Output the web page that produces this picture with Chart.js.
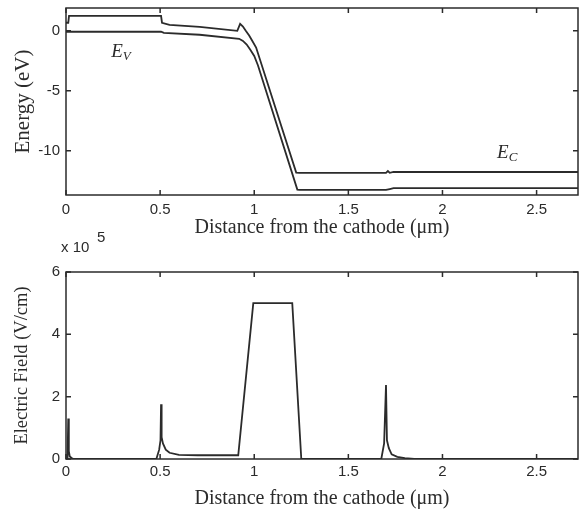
<!DOCTYPE html>
<html lang="en">
<head>
<meta charset="UTF-8">
<title>Energy band and electric field</title>
<script src="https://cdn.jsdelivr.net/npm/chart.js"></script>
<style>
    body { margin: 0; background: #fff; }
    #wrap { position: relative; width: 586px; height: 520px; }
    #bandChart { position: absolute; left: 0; top: 0; }
    #fieldChart { position: absolute; left: 0; top: 228px; }
</style>
</head>
<body>
<div id="wrap">
    <canvas id="bandChart" width="586" height="240"></canvas>
    <canvas id="fieldChart" width="586" height="292"></canvas>
</div>

<script>
    // values (distance in um, energy in eV, field in 1e5 V/cm)
    const xTicks = [0, 0.5, 1, 1.5, 2, 2.5];
    const energyTicks = [-10, -5, 0];
    const fieldTicks = [0, 2, 4, 6];

    const ecX = [0, 0.012, 0.016, 0.505, 0.51, 0.55, 0.71, 0.91, 0.925, 0.94, 0.955, 0.973, 0.99, 1.01, 1.223, 1.24, 1.70, 1.71, 1.72, 1.74, 2.72];
    const ecY = [0.67, 0.67, 1.25, 1.25, 0.67, 0.5, 0.33, 0.0, 0.58, 0.35, 0.0, -0.4, -0.85, -1.4, -11.83, -11.85, -11.85, -11.7, -11.85, -11.78, -11.78];

    const evX = [0, 0.505, 0.52, 0.71, 0.92, 0.94, 0.96, 0.98, 1.0, 1.02, 1.229, 1.24, 1.70, 1.72, 1.74, 2.72];
    const evY = [-0.08, -0.08, -0.17, -0.33, -0.67, -0.85, -1.15, -1.6, -2.1, -2.9, -13.25, -13.28, -13.28, -13.2, -13.12, -13.12];

    const fieldX = [0, 0.008, 0.012, 0.015, 0.02, 0.03, 0.04, 0.48, 0.495, 0.502, 0.505, 0.508, 0.515, 0.53, 0.55, 0.6, 0.7, 0.915, 0.995, 1.202, 1.25, 1.675, 1.69, 1.70, 1.705, 1.715, 1.73, 1.76, 1.8, 1.85, 2.72];
    const fieldY = [0, 0, 1.3, 0.25, 0.08, 0.03, 0, 0, 0.3, 0.6, 1.76, 0.7, 0.5, 0.3, 0.2, 0.13, 0.12, 0.12, 5.0, 5.0, 0, 0, 0.5, 2.37, 0.6, 0.35, 0.15, 0.07, 0.03, 0, 0];

    const ink = "#2b2b2b";
    const sansFont = "'Liberation Sans', Arial, sans-serif";
    const serifFont = "'Liberation Serif', 'Times New Roman', serif";

    function toPoints(xs, ys) {
        return xs.map((x, i) => ({ x: x, y: ys[i] }));
    }

    function lineSet(xs, ys) {
        return {
            data: toPoints(xs, ys),
            borderColor: ink,
            borderWidth: 1.8,
            pointRadius: 0,
            tension: 0,
            fill: false
        };
    }

    // MATLAB style box with inward ticks on all four sides
    const boxPlugin = {
        id: "boxPlugin",
        afterDraw(chart) {
            const { ctx, chartArea: a, scales } = chart;
            ctx.save();
            ctx.strokeStyle = ink;
            ctx.lineWidth = 1.5;
            ctx.strokeRect(a.left, a.top, a.right - a.left, a.bottom - a.top);
            ctx.beginPath();
            scales.x.ticks.forEach(t => {
                const px = scales.x.getPixelForValue(t.value);
                ctx.moveTo(px, a.bottom); ctx.lineTo(px, a.bottom - 5);
                ctx.moveTo(px, a.top); ctx.lineTo(px, a.top + 5);
            });
            scales.y.ticks.forEach(t => {
                const py = scales.y.getPixelForValue(t.value);
                ctx.moveTo(a.left, py); ctx.lineTo(a.left + 5, py);
                ctx.moveTo(a.right, py); ctx.lineTo(a.right - 5, py);
            });
            ctx.stroke();
            ctx.restore();
        }
    };

    // E with subscript, placed in data coordinates
    function drawBandLabel(chart, x, y, sub) {
        const { ctx, scales } = chart;
        const px = scales.x.getPixelForValue(x);
        const py = scales.y.getPixelForValue(y);
        ctx.save();
        ctx.fillStyle = ink;
        ctx.textBaseline = "alphabetic";
        ctx.font = "italic 19px " + serifFont;
        ctx.fillText("E", px, py);
        const w = ctx.measureText("E").width;
        ctx.font = "italic 13px " + serifFont;
        ctx.fillText(sub, px + w, py + 3);
        ctx.restore();
    }

    const bandLabels = {
        id: "bandLabels",
        afterDraw(chart) {
            drawBandLabel(chart, 0.24, -2.17, "V");
            drawBandLabel(chart, 2.29, -10.58, "C");
        }
    };

    const scaleFactor = {
        id: "scaleFactor",
        afterDraw(chart) {
            const { ctx } = chart;
            ctx.save();
            ctx.fillStyle = ink;
            ctx.textBaseline = "middle";
            ctx.font = "15px " + sansFont;
            ctx.fillText("x 10", 61, 20);
            ctx.fillText("5", 97, 10);
            ctx.restore();
        }
    };

    const plainTick = v => String(v);

    function xScale(height, tickPad, titlePad) {
        return {
            type: "linear",
            min: 0,
            max: 2.72,
            afterBuildTicks: s => { s.ticks = xTicks.map(v => ({ value: v })); },
            afterFit: s => { s.height = height; s.paddingLeft = 0; s.paddingRight = 0; },
            grid: { display: false, drawTicks: false },
            border: { display: false },
            ticks: { color: ink, padding: tickPad, callback: plainTick, font: { family: sansFont, size: 15 } },
            title: {
                display: true,
                text: "Distance from the cathode (μm)",
                color: ink,
                padding: { top: 0, bottom: titlePad },
                font: { family: serifFont, size: 20, lineHeight: 1.2 }
            }
        };
    }

    function yScale(min, max, tickList, text, size) {
        return {
            type: "linear",
            min: min,
            max: max,
            afterBuildTicks: s => { s.ticks = tickList.map(v => ({ value: v })); },
            afterFit: s => { s.width = 66; s.paddingTop = 0; s.paddingBottom = 0; },
            grid: { display: false, drawTicks: false },
            border: { display: false },
            ticks: { color: ink, padding: 6, callback: plainTick, font: { family: sansFont, size: 15 } },
            title: {
                display: true,
                text: text,
                color: ink,
                padding: { top: 11, bottom: 0 },
                font: { family: serifFont, size: size, lineHeight: 1.2 }
            }
        };
    }

    const common = {
        responsive: false,
        animation: false,
        plugins: { legend: { display: false }, tooltip: { enabled: false } }
    };

    new Chart(document.getElementById("bandChart"), {
        type: "line",
        data: { datasets: [lineSet(ecX, ecY), lineSet(evX, evY)] },
        options: {
            ...common,
            layout: { padding: { top: 8, right: 8, left: 0, bottom: 0 } },
            scales: {
                x: xScale(45, 6, 0),
                y: yScale(-13.7, 1.9, energyTicks, "Energy (eV)", 21)
            }
        },
        plugins: [boxPlugin, bandLabels]
    });

    new Chart(document.getElementById("fieldChart"), {
        type: "line",
        data: { datasets: [lineSet(fieldX, fieldY)] },
        options: {
            ...common,
            layout: { padding: { top: 44, right: 8, left: 0, bottom: 0 } },
            scales: {
                x: xScale(61, 4, 9),
                y: yScale(0, 6, fieldTicks, "Electric Field (V/cm)", 18.5)
            }
        },
        plugins: [boxPlugin, scaleFactor]
    });
</script>
</body>
</html>
